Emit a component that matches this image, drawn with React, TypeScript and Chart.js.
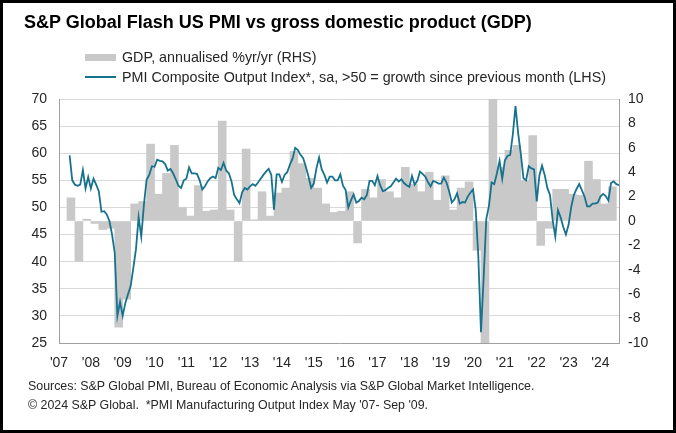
import React, { useEffect, useRef } from 'react';
import { Chart, registerables } from 'chart.js';

Chart.register(...registerables);

// ---------- DATA ----------
const FONT = "'Liberation Sans', Arial, Helvetica, sans-serif";

// x-axis year ticks and labels
const yearTicks = [2007, 2008, 2009, 2010, 2011, 2012, 2013, 2014, 2015, 2016, 2017, 2018, 2019, 2020, 2021, 2022, 2023, 2024];
const yearLabels = ["'07", "'08", "'09", "'10", "'11", "'12", "'13", "'14", "'15", "'16", "'17", "'18", "'19", "'20", "'21", "'22", "'23", "'24"];

// PMI (monthly), first value = May 2007, last = Aug 2024
const pmiStartYear = 2007;
const pmiStartMonth = 5;
const pmi2007 = [59.6, 55.0, 54.2, 54.0, 54.2, 56.9, 53.5, 55.6];
const pmi2008 = [53.5, 55.3, 54.2, 53.0, 49.2, 49.3, 48.7, 47.5, 45.0, 41.6, 30.0, 32.6];
const pmi2009 = [30.0, 32.4, 34.0, 35.5, 38.8, 42.3, 48.2, 44.6, 50.5, 55.1, 56.0, 57.6];
const pmi2010 = [57.5, 58.8, 58.6, 58.5, 58.0, 56.8, 57.1, 56.3, 55.2, 54.0, 53.6, 55.0];
const pmi2011 = [55.3, 57.4, 56.3, 56.3, 56.2, 55.0, 53.3, 53.9, 54.8, 55.4, 55.7, 55.4];
const pmi2012 = [57.3, 56.9, 58.2, 56.8, 56.3, 54.8, 52.3, 51.5, 50.8, 52.8, 53.6, 53.3];
const pmi2013 = [53.9, 54.3, 54.0, 54.6, 55.3, 56.0, 56.6, 57.1, 56.0, 49.6, 56.1, 56.1];
const pmi2014 = [54.7, 56.0, 56.5, 57.9, 59.0, 61.0, 60.6, 59.7, 59.1, 57.5, 55.7, 53.6];
const pmi2015 = [54.4, 57.2, 59.2, 57.0, 56.0, 54.6, 55.7, 55.7, 55.0, 55.0, 56.1, 54.0];
const pmi2016 = [53.2, 50.0, 51.3, 52.4, 50.9, 51.2, 51.8, 51.5, 52.3, 54.9, 54.9, 54.1];
const pmi2017 = [55.8, 54.1, 53.0, 53.2, 53.6, 53.9, 54.6, 55.3, 54.8, 55.2, 54.5, 54.1];
const pmi2018 = [53.8, 55.8, 54.2, 54.9, 56.6, 56.2, 55.7, 54.7, 53.9, 54.9, 54.7, 54.4];
const pmi2019 = [54.4, 55.5, 54.6, 53.0, 50.9, 51.5, 52.6, 50.7, 51.0, 50.9, 52.0, 52.7];
const pmi2020 = [53.3, 49.6, 40.9, 27.0, 37.0, 47.9, 50.3, 54.6, 54.3, 56.3, 58.6, 55.3];
const pmi2021 = [58.7, 59.5, 59.7, 63.5, 68.7, 63.7, 59.9, 55.4, 55.0, 57.6, 57.2, 57.0];
const pmi2022 = [51.1, 55.9, 57.7, 56.0, 53.6, 52.3, 47.7, 44.6, 49.5, 48.2, 46.4, 45.0];
const pmi2023 = [46.8, 50.1, 52.3, 53.4, 54.3, 53.2, 52.0, 50.2, 50.2, 50.7, 50.7, 50.9];
const pmi2024 = [52.0, 52.5, 52.1, 51.3, 54.5, 54.8, 54.3, 54.1];

// GDP (quarterly), first value = Q2 2007, last = Q2 2024 (axis clipped at +/-10)
const gdpStartYear = 2007;
const gdpStartQuarter = 2;
const gdp2007 = [1.9, -3.3, 0.15];
const gdp2008 = [-0.2, -0.7, -0.6, -8.7];
const gdp2009 = [-6.4, 1.4, 1.6, 6.3];
const gdp2010 = [2.2, 3.9, 6.2, 1.1];
const gdp2011 = [0.4, 2.9, 0.8, 0.9];
const gdp2012 = [8.2, 0.9, -3.3, 5.9];
const gdp2013 = [0.1, 2.4, 0.4, 2.3];
const gdp2014 = [2.7, 5.7, 4.7, 3.5];
const gdp2015 = [2.7, 1.4, 0.7, 0.8];
const gdp2016 = [2.4, -1.8, 2.6, 1.9];
const gdp2017 = [3.4, 2.4, 1.9, 4.4];
const gdp2018 = [3.0, 2.4, 4.0, 1.7];
const gdp2019 = [3.7, 0.9, 2.7, 3.2];
const gdp2020 = [-2.4, -10, 10, 4.4];
const gdp2021 = [5.8, 6.2, 3.3, 7.0];
const gdp2022 = [-2.0, -0.6, 2.6, 2.6];
const gdp2023 = [2.2, 2.1, 4.9, 3.4];
const gdp2024 = [1.4, 2.8];

const pmiValues = [
  ...pmi2007, ...pmi2008, ...pmi2009, ...pmi2010, ...pmi2011, ...pmi2012, ...pmi2013, ...pmi2014, ...pmi2015,
  ...pmi2016, ...pmi2017, ...pmi2018, ...pmi2019, ...pmi2020, ...pmi2021, ...pmi2022, ...pmi2023, ...pmi2024,
];
const gdpValues = [
  ...gdp2007, ...gdp2008, ...gdp2009, ...gdp2010, ...gdp2011, ...gdp2012, ...gdp2013, ...gdp2014, ...gdp2015,
  ...gdp2016, ...gdp2017, ...gdp2018, ...gdp2019, ...gdp2020, ...gdp2021, ...gdp2022, ...gdp2023, ...gdp2024,
];

const TEAL = '#16728d';
const BAR_GRAY = '#c9c9c9';
const GRID = '#d9d9d9';
const AXIS = '#a0a0a0';
const TEXT = '#262626';

export default function App() {
  const ref = useRef<HTMLCanvasElement>(null);

  useEffect(() => {
    const pmiPoints = pmiValues.map((v, i) => ({ x: pmiStartYear + (pmiStartMonth - 1 + i) / 12, y: v }));
    const gdpPoints = gdpValues.map((v, i) => ({ x: gdpStartYear + (gdpStartQuarter - 1 + i) / 4 + 1 / 8, y: v }));
    const lastX = pmiPoints[pmiPoints.length - 1].x;

    const chart = new Chart(ref.current as HTMLCanvasElement, {
      type: 'bar',
      data: {
        datasets: [
          {
            type: 'line',
            label: 'PMI Composite Output Index*, sa, >50 = growth since previous month (LHS)',
            data: pmiPoints as any,
            xAxisID: 'x',
            yAxisID: 'yL',
            borderColor: TEAL,
            backgroundColor: TEAL,
            borderWidth: 1.8,
            pointRadius: 0,
            tension: 0,
            order: 1,
          } as any,
          {
            type: 'bar',
            label: 'GDP, annualised %yr/yr (RHS)',
            data: gdpPoints as any,
            xAxisID: 'x',
            yAxisID: 'yR',
            backgroundColor: BAR_GRAY,
            borderWidth: 0,
            barPercentage: 1,
            categoryPercentage: 1,
            order: 2,
          } as any,
        ],
      },
      options: {
        responsive: false,
        animation: false,
        devicePixelRatio: 1,
        layout: { padding: { top: 99, left: 0, right: 0, bottom: 0 } },
        plugins: {
          legend: { display: false },
          title: { display: false },
          tooltip: { enabled: false },
        },
        scales: {
          x: {
            type: 'linear',
            position: 'bottom',
            min: 2007,
            max: lastX,
            offset: false,
            afterBuildTicks: (s: any) => {
              s.ticks = yearTicks.map((v) => ({ value: v }));
            },
            afterFit: (s: any) => {
              s.height = 90;
            },
            ticks: {
              autoSkip: false,
              maxRotation: 0,
              padding: 12,
              color: TEXT,
              font: { family: FONT, size: 14 },
              callback: (v: any) => yearLabels[yearTicks.indexOf(Number(v))] ?? '',
            },
            grid: { display: false, drawTicks: false, offset: false },
            border: { display: true, color: AXIS, width: 1 },
          } as any,
          yL: {
            type: 'linear',
            position: 'left',
            min: 25,
            max: 70,
            afterFit: (s: any) => {
              s.width = 59;
            },
            ticks: {
              stepSize: 5,
              padding: 12,
              color: TEXT,
              font: { family: FONT, size: 14 },
            },
            grid: { color: GRID, drawTicks: false, lineWidth: 1 },
            border: { display: true, color: AXIS, width: 1 },
          } as any,
          yR: {
            type: 'linear',
            position: 'right',
            min: -10,
            max: 10,
            afterFit: (s: any) => {
              s.width = 57;
            },
            ticks: {
              stepSize: 2,
              padding: 9,
              color: TEXT,
              font: { family: FONT, size: 14 },
            },
            grid: { drawOnChartArea: false, drawTicks: false },
            border: { display: true, color: AXIS, width: 1 },
          } as any,
        },
      },
    });
    return () => chart.destroy();
  }, []);

  const abs = (o: React.CSSProperties): React.CSSProperties => ({ position: 'absolute', whiteSpace: 'nowrap', ...o });

  return (
    <div style={{ position: 'fixed', left: 0, top: 0, width: 676, height: 433, background: '#fff', fontFamily: FONT, color: TEXT, overflow: 'hidden' }}>
      <canvas ref={ref} width={676} height={433} style={{ position: 'absolute', left: 0, top: 0, width: 676, height: 433 }} />
      <div style={abs({ left: 24, top: 11, fontSize: 18, lineHeight: '22px', fontWeight: 'bold', color: '#000' })}>
        S&amp;P Global Flash US PMI vs gross domestic product (GDP)
      </div>
      <div style={abs({ left: 85, top: 54, width: 31, height: 7, background: BAR_GRAY })} />
      <div style={abs({ left: 122, top: 49, fontSize: 14.3, lineHeight: '16px' })}>GDP, annualised %yr/yr (RHS)</div>
      <div style={abs({ left: 85, top: 76, width: 31, height: 2, background: TEAL })} />
      <div style={abs({ left: 122, top: 69, fontSize: 14.3, lineHeight: '16px' })}>
        PMI Composite Output Index*, sa, &gt;50 = growth since previous month (LHS)
      </div>
      <div style={abs({ left: 28, top: 378, fontSize: 12.4, lineHeight: '16px' })}>
        Sources: S&amp;P Global PMI, Bureau of Economic Analysis via S&amp;P Global Market Intelligence.
      </div>
      <div style={abs({ left: 28, top: 397, fontSize: 12.4, lineHeight: '16px' })}>
        © 2024 S&amp;P Global.&nbsp; *PMI Manufacturing Output Index May '07- Sep '09.
      </div>
      <div style={abs({ left: 0, top: 0, width: 676, height: 433, boxSizing: 'border-box', border: '3px solid #000', pointerEvents: 'none' })} />
    </div>
  );
}
